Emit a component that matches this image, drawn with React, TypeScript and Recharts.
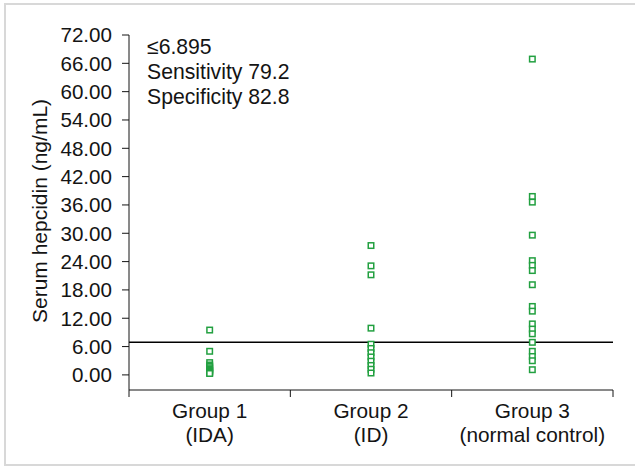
import React from 'react';
import { ScatterChart, Scatter, XAxis, YAxis, ReferenceLine, Customized } from 'recharts';

const categories = ['Group 1', 'Group 2', 'Group 3'];
const categorySubLabels = ['(IDA)', '(ID)', '(normal control)'];
const group1Values = [9.5, 5.0, 2.6, 2.1, 1.8, 1.5, 1.2, 1.0, 0.8, 0.6, 0.4, 0.3];
const group2Values = [27.4, 23.1, 21.2, 9.9, 6.5, 5.6, 4.7, 3.8, 2.9, 2.0, 1.2, 0.4];
const group3Values = [66.9, 37.8, 36.6, 29.6, 24.2, 23.2, 22.1, 19.1, 14.5, 13.5, 10.8, 9.7, 8.7, 6.9, 5.0, 3.9, 3.0, 1.1];
const yTicks = [0, 6, 12, 18, 24, 30, 36, 42, 48, 54, 60, 66, 72];
const xTicks = [0, 0.5, 1, 1.5, 2, 2.5, 3];
const cutoff = 6.895;
const annotationLines = ['≤6.895', 'Sensitivity 79.2', 'Specificity 82.8'];
const yAxisTitle = 'Serum hepcidin (ng/mL)';

const FONT = '"Liberation Sans", Arial, sans-serif';
const TEXT = '#141414';
const GREEN = '#22a040';

const groups = [group1Values, group2Values, group3Values];
const points = groups.flatMap((vals, i) => vals.map((v) => ({ x: i + 0.5, y: v })));

const XTick = (props: any) => {
  const { x, y, payload } = props;
  const v = payload.value as number;
  if (Number.isInteger(v)) {
    return <line x1={x} x2={x} y1={y} y2={y + 7} stroke={TEXT} strokeWidth={1} />;
  }
  const idx = Math.floor(v);
  return (
    <g>
      <text x={x} y={y + 28} textAnchor="middle" fontSize={20.8} fontFamily={FONT} fill={TEXT}>
        {categories[idx]}
      </text>
      <text x={x} y={y + 52} textAnchor="middle" fontSize={20.8} fontFamily={FONT} fill={TEXT}>
        {categorySubLabels[idx]}
      </text>
    </g>
  );
};

const Marker = (props: any) => {
  const { cx, cy } = props;
  const s = 5.5;
  return <rect x={cx - s / 2} y={cy - s / 2} width={s} height={s} fill="#fff" stroke={GREEN} strokeWidth={1.5} />;
};

const Overlay = () => (
  <g>
    <text
      x={47}
      y={211}
      transform="rotate(-90 47 211)"
      textAnchor="middle"
      fontSize={21}
      fontFamily={FONT}
      fill={TEXT}
    >
      {yAxisTitle}
    </text>
    {annotationLines.map((t, i) => (
      <text key={i} x={147} y={54 + i * 25} fontSize={21.2} fontFamily={FONT} fill={TEXT}>
        {t}
      </text>
    ))}
  </g>
);

export default function App() {
  return (
    <div style={{ position: 'fixed', left: 0, top: 0, width: 635, height: 470, overflow: 'hidden', background: '#fff' }}>
      <div
        style={{
          position: 'absolute',
          left: 4,
          top: 3,
          width: 650,
          height: 463,
          border: '2px solid #d8d8d8',
          boxSizing: 'border-box',
        }}
      />
      <div style={{ position: 'absolute', left: 0, top: 0 }}>
        <ScatterChart width={635} height={470} margin={{ top: 35, right: 22, bottom: 0, left: 0 }}>
          <XAxis
            type="number"
            dataKey="x"
            domain={[0, 3]}
            ticks={xTicks}
            tickLine={false}
            tickSize={0}
            tickMargin={0}
            tick={<XTick />}
            axisLine={{ stroke: TEXT, strokeWidth: 1 }}
            height={80}
            interval={0}
          />
          <YAxis
            type="number"
            dataKey="y"
            domain={[-3.2, 72]}
            ticks={yTicks}
            tickFormatter={(v: number) => v.toFixed(2)}
            tickSize={7}
            tickMargin={10}
            width={129}
            interval={0}
            axisLine={{ stroke: TEXT, strokeWidth: 1 }}
            tickLine={{ stroke: TEXT, strokeWidth: 1 }}
            tick={{ fontSize: 20.6, fontFamily: FONT, fill: TEXT }}
          />
          <ReferenceLine y={cutoff} stroke="#000" strokeWidth={1.5} />
          <Scatter data={points} shape={<Marker />} isAnimationActive={false} />
          <Customized component={Overlay} />
        </ScatterChart>
      </div>
    </div>
  );
}
